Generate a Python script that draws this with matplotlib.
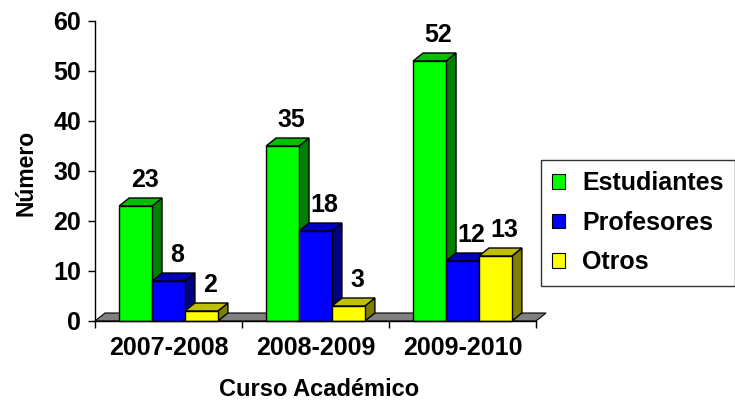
import numpy as np
import matplotlib
matplotlib.use("Agg")
import matplotlib.pyplot as plt
from matplotlib.patches import Polygon, Patch

plt.rcParams['font.family'] = ['Liberation Sans', 'DejaVu Sans']
plt.rcParams['font.weight'] = 'bold'

# datos
cursos = ['2007-2008', '2008-2009', '2009-2010']
series = ['Estudiantes', 'Profesores', 'Otros']
estudiantes = [23, 35, 52]
profesores = [8, 18, 12]
otros = [2, 3, 13]
valores = [estudiantes, profesores, otros]

# colores: frente, lado, arriba
frente = ['#00FF00', '#0000FF', '#FFFF00']
lado = ['#008000', '#000080', '#808000']
arriba = ['#00C000', '#0000C0', '#C0C000']

fig = plt.figure(figsize=(7.35, 4.03), dpi=100)
ax = fig.add_axes([95/735, 82/403, 441/735, 300/403])
ax.set_xlim(0, 3)
ax.set_ylim(0, 60)

# profundidad del efecto 3D (en unidades de datos)
dx = 0.068
dy = 1.6
ancho = 0.224
inicio = (1 - 3*ancho) / 2

# suelo gris
suelo = Polygon([(0, 0), (3, 0), (3+dx, dy), (dx, dy)], closed=True,
                facecolor='#808080', edgecolor='black', lw=0.8, clip_on=False, zorder=1)
ax.add_patch(suelo)

for i in range(len(cursos)):
    for j in range(len(series)):
        v = valores[j][i]
        x0 = i + inicio + j*ancho
        x1 = x0 + ancho
        # lado
        ax.add_patch(Polygon([(x1, 0), (x1+dx, dy), (x1+dx, v+dy), (x1, v)], closed=True,
                             facecolor=lado[j], edgecolor='black', lw=1, clip_on=False, zorder=2))
        # arriba
        ax.add_patch(Polygon([(x0, v), (x1, v), (x1+dx, v+dy), (x0+dx, v+dy)], closed=True,
                             facecolor=arriba[j], edgecolor='black', lw=1, clip_on=False, zorder=2))
        # frente
        ax.add_patch(Polygon([(x0, 0), (x1, 0), (x1, v), (x0, v)], closed=True,
                             facecolor=frente[j], edgecolor='black', lw=1, clip_on=False, zorder=2))
        ax.annotate(str(v), xy=(x0 + ancho/2 + dx*0.9, v + dy), xytext=(0, 4),
                    textcoords='offset points', ha='center', va='bottom',
                    fontsize=18, fontweight='bold')

# ejes
ax.spines['top'].set_visible(False)
ax.spines['right'].set_visible(False)
ax.spines['left'].set_linewidth(1)
ax.spines['bottom'].set_linewidth(1)
ax.set_xticks([0, 1, 2, 3])
ax.set_xticklabels([])
ax.set_xticks([0.5, 1.5, 2.5], minor=True)
ax.set_xticklabels(cursos, minor=True, fontsize=18, fontweight='bold')
ax.tick_params(axis='x', which='major', direction='out', length=5, width=1)
ax.tick_params(axis='x', which='minor', length=0, pad=11)
ax.set_yticks(np.arange(0, 61, 10))
ax.tick_params(axis='y', direction='out', length=5, width=1, labelsize=18, pad=5)

ax.set_xlabel(u'Curso Académico', fontsize=17, fontweight='bold')
ax.xaxis.set_label_coords(0.508, -0.19)
ax.set_ylabel(u'Número', fontsize=16.5, fontweight='bold')
ax.yaxis.set_label_coords(-0.13, 0.493)

# leyenda
handles = [Patch(facecolor=frente[j], edgecolor='black', lw=0.8) for j in range(3)]
leg = fig.legend(handles, series, loc='upper left', bbox_to_anchor=(541/735, 1 - 160/403),
                 fontsize=18, frameon=True, fancybox=False, handlelength=0.5, handleheight=0.5,
                 handletextpad=0.7, labelspacing=0.62, borderpad=0.45, borderaxespad=0)
leg.get_frame().set_edgecolor('black')
leg.get_frame().set_linewidth(1)
for t in leg.get_texts():
    t.set_fontweight('bold')

fig.savefig('out.png', dpi=100)
